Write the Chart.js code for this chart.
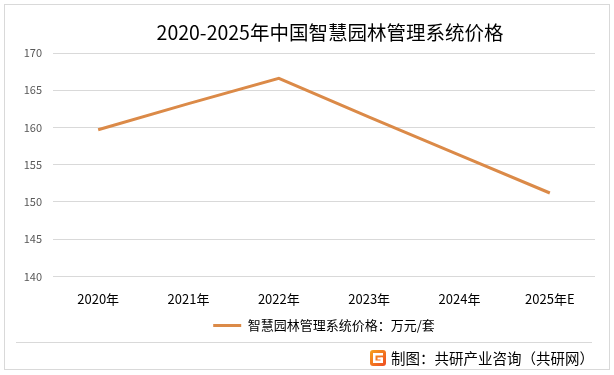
<!DOCTYPE html>
<html>
<head>
<meta charset="utf-8">
<script src="https://cdn.jsdelivr.net/npm/chart.js@4.4.1/dist/chart.umd.min.js"></script>
<style>
  html, body { margin: 0; padding: 0; background: #fff; }
  #wrap { position: relative; width: 614px; height: 375px; }
  #frame { position: absolute; left: 4px; top: 4px; width: 606px; height: 366px; border: 1px solid #d9d9d9; box-sizing: border-box; }
  canvas { position: absolute; left: 0; top: 0; }
</style>
</head>
<body>
<div id="wrap">
  <div id="frame"></div>
  <canvas id="grafico" width="614" height="375"></canvas>
</div>
<script>
// dados
const anos = ["2020年", "2021年", "2022年", "2023年", "2024年", "2025年E"];
const precos = [159.7, 163.2, 166.6, 161.4, 156.3, 151.2];
const nomeSerie = "智慧园林管理系统价格：万元/套";
const titulo = "2020-2025年中国智慧园林管理系统价格";
const fonte = "制图：共研产业咨询（共研网）";
const yMin = 140, yMax = 170, yPasso = 5;

const familia = "'Noto Sans CJK SC', 'Noto Sans', sans-serif";
const laranja = "#DB8A48";

// titulo + rodape (linha separadora, logo, texto da fonte)
const extras = {
  id: "extras",
  afterDraw(chart) {
    const ctx = chart.ctx;
    ctx.save();
    ctx.font = "19.5px " + familia;
    ctx.fillStyle = "#000";
    ctx.textAlign = "center";
    ctx.textBaseline = "middle";
    ctx.fillText(titulo, 330, 33);

    ctx.strokeStyle = "#d9d9d9";
    ctx.lineWidth = 1;
    ctx.beginPath();
    ctx.moveTo(16, 342.5);
    ctx.lineTo(592, 342.5);
    ctx.stroke();

    ctx.font = "14.5px " + familia;
    ctx.fillStyle = "#000";
    ctx.textAlign = "right";
    ctx.fillText(fonte, 594, 358);
    const w = ctx.measureText(fonte).width;

    // logo
    const lx = 594 - w - 21, ly = 350;
    const g = ctx.createLinearGradient(lx, ly, lx + 16, ly + 16);
    g.addColorStop(0, "#F7A21B");
    g.addColorStop(1, "#EE4B23");
    ctx.fillStyle = g;
    ctx.beginPath();
    ctx.roundRect(lx, ly, 16, 16, 3);
    ctx.fill();
    ctx.fillStyle = "#fff";
    ctx.fillRect(lx + 3, ly + 3, 10, 2.5);
    ctx.fillRect(lx + 3, ly + 3, 2.5, 10);
    ctx.fillRect(lx + 3, ly + 10.5, 10, 2.5);
    ctx.fillRect(lx + 10.5, ly + 7.5, 2.5, 5);
    ctx.fillRect(lx + 7.5, ly + 7.5, 5, 2);
    ctx.restore();
  }
};

new Chart(document.getElementById("grafico").getContext("2d"), {
  type: "line",
  data: {
    labels: anos,
    datasets: [{
      label: nomeSerie,
      data: precos,
      borderColor: laranja,
      backgroundColor: laranja,
      borderWidth: 3,
      pointRadius: 0,
      tension: 0
    }]
  },
  options: {
    responsive: false,
    animation: false,
    layout: { padding: { left: 10, right: 19, top: 53, bottom: 33 } },
    plugins: {
      title: { display: false },
      legend: {
        position: "bottom",
        fullSize: false,
        labels: {
          color: "#000",
          font: { family: familia, size: 13 },
          boxWidth: 28,
          boxHeight: 3,
          padding: 5,
          generateLabels(chart) {
            const itens = Chart.defaults.plugins.legend.labels.generateLabels(chart);
            itens.forEach(i => { i.lineWidth = 0; });
            return itens;
          }
        }
      },
      tooltip: { enabled: false }
    },
    scales: {
      x: {
        offset: true,
        grid: { display: false, offset: true },
        border: { display: false },
        ticks: { color: "#000", font: { family: familia, size: 13 }, padding: 7, maxRotation: 0 }
      },
      y: {
        min: yMin,
        max: yMax,
        ticks: { stepSize: yPasso, color: "#595959", font: { family: familia, size: 11 }, padding: 11 },
        grid: { color: "#d9d9d9", drawTicks: false },
        border: { display: false },
        afterFit(s) { s.width = 43; }
      }
    }
  },
  plugins: [extras]
});
</script>
</body>
</html>
